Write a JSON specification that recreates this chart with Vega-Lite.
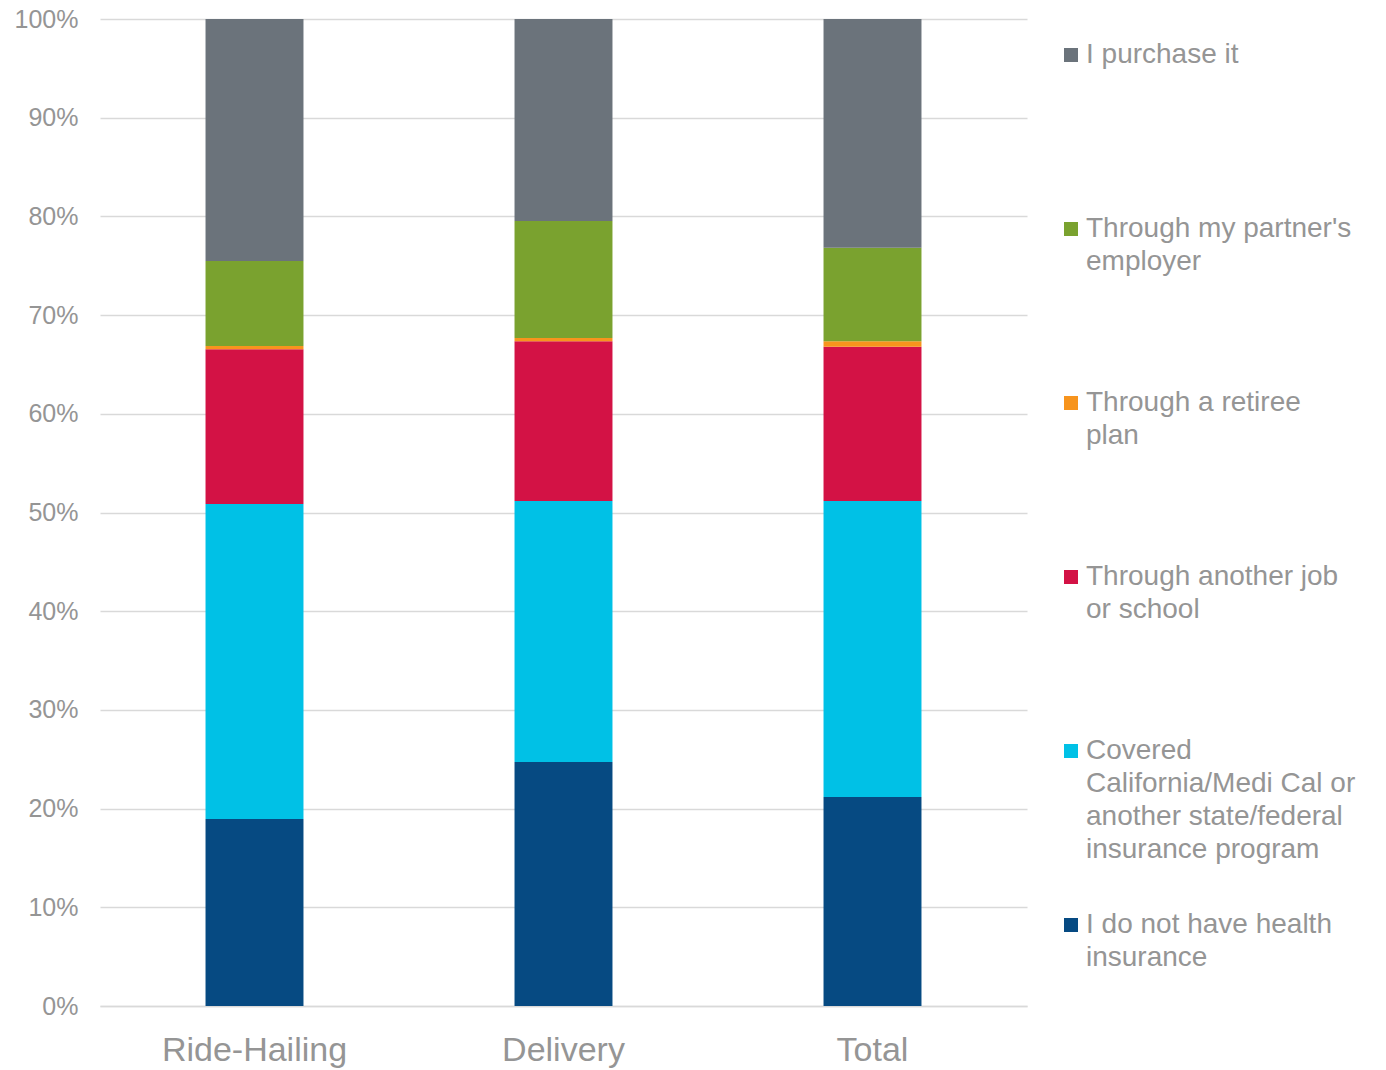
{
  "$schema": "https://vega.github.io/schema/vega-lite/v6.json",
  "width": 927,
  "height": 987,
  "padding": {"left": 5, "top": 7, "right": 5, "bottom": 5},
  "background": "white",
  "data": {
    "values": [
      {"group": "Ride-Hailing", "source": "I do not have health insurance", "rank": 1, "share": 0.1895},
      {"group": "Ride-Hailing", "source": "Covered California/Medi Cal or another state/federal insurance program", "rank": 2, "share": 0.3191},
      {"group": "Ride-Hailing", "source": "Through another job or school", "rank": 3, "share": 0.1567},
      {"group": "Ride-Hailing", "source": "Through a retiree plan", "rank": 4, "share": 0.0034},
      {"group": "Ride-Hailing", "source": "Through my partner's employer", "rank": 5, "share": 0.0861},
      {"group": "Ride-Hailing", "source": "I purchase it", "rank": 6, "share": 0.2452},
      {"group": "Delivery", "source": "I do not have health insurance", "rank": 1, "share": 0.2472},
      {"group": "Delivery", "source": "Covered California/Medi Cal or another state/federal insurance program", "rank": 2, "share": 0.2645},
      {"group": "Delivery", "source": "Through another job or school", "rank": 3, "share": 0.1618},
      {"group": "Delivery", "source": "Through a retiree plan", "rank": 4, "share": 0.0033},
      {"group": "Delivery", "source": "Through my partner's employer", "rank": 5, "share": 0.1185},
      {"group": "Delivery", "source": "I purchase it", "rank": 6, "share": 0.2047},
      {"group": "Total", "source": "I do not have health insurance", "rank": 1, "share": 0.2118},
      {"group": "Total", "source": "Covered California/Medi Cal or another state/federal insurance program", "rank": 2, "share": 0.2999},
      {"group": "Total", "source": "Through another job or school", "rank": 3, "share": 0.1563},
      {"group": "Total", "source": "Through a retiree plan", "rank": 4, "share": 0.0055},
      {"group": "Total", "source": "Through my partner's employer", "rank": 5, "share": 0.0948},
      {"group": "Total", "source": "I purchase it", "rank": 6, "share": 0.2317}
    ]
  },
  "mark": {"type": "bar"},
  "encoding": {
    "x": {
      "field": "group",
      "type": "nominal",
      "sort": ["Ride-Hailing", "Delivery", "Total"],
      "scale": {"paddingInner": 0.683, "paddingOuter": 0.3415},
      "axis": {
        "title": null,
        "labelAngle": 0,
        "labelFontSize": 34,
        "labelFont": "Liberation Sans",
        "labelColor": "#959595",
        "labelPadding": 27,
        "labelBaseline": "top",
        "labelLimit": 400,
        "ticks": false,
        "tickSize": 0,
        "domain": true,
        "domainColor": "#d9d9d9",
        "domainWidth": 1.5,
        "grid": false
      }
    },
    "y": {
      "field": "share",
      "type": "quantitative",
      "stack": "zero",
      "scale": {"domain": [0, 1], "nice": false},
      "axis": {
        "title": null,
        "format": ".0%",
        "values": [0, 0.1, 0.2, 0.3, 0.4, 0.5, 0.6, 0.7, 0.8, 0.9, 1],
        "labelFontSize": 25,
        "labelFont": "Liberation Sans",
        "labelColor": "#959595",
        "labelPadding": 22,
        "ticks": false,
        "tickSize": 0,
        "domain": false,
        "grid": true,
        "gridColor": "#d9d9d9",
        "gridWidth": 1.5,
        "minExtent": 95,
        "maxExtent": 95
      }
    },
    "order": {"field": "rank", "type": "quantitative", "sort": "ascending"},
    "color": {
      "field": "source",
      "type": "nominal",
      "scale": {
        "domain": ["I purchase it", "Through my partner's employer", "Through a retiree plan", "Through another job or school", "Covered California/Medi Cal or another state/federal insurance program", "I do not have health insurance"],
        "range": ["#6b737b", "#7aa22f", "#f7941d", "#d31245", "#00c1e6", "#064a82"]
      },
      "legend": {
        "title": null,
        "orient": "none",
        "legendX": 957,
        "legendY": 8,
        "symbolType": "M-1,1H1V3H-1Z",
        "symbolSize": 196,
        "symbolStrokeWidth": 0,
        "labelFontSize": 28,
        "labelFont": "Liberation Sans",
        "labelColor": "#959595",
        "labelBaseline": "top",
        "labelOffset": 1,
        "labelLimit": 400,
        "rowPadding": 33,
        "labelExpr": "datum.label == 'I purchase it' ? ['I purchase it', '', '', ''] : datum.label == \"Through my partner's employer\" ? [\"Through my partner's\", 'employer', '', ''] : datum.label == 'Through a retiree plan' ? ['Through a retiree', 'plan', '', ''] : datum.label == 'Through another job or school' ? ['Through another job', 'or school', '', ''] : datum.label == 'I do not have health insurance' ? ['I do not have health', 'insurance', '', ''] : ['Covered', 'California/Medi Cal or', 'another state/federal', 'insurance program']"
      }
    }
  },
  "config": {
    "view": {"stroke": null},
    "style": {"guide-label": {"lineHeight": 33}}
  }
}
